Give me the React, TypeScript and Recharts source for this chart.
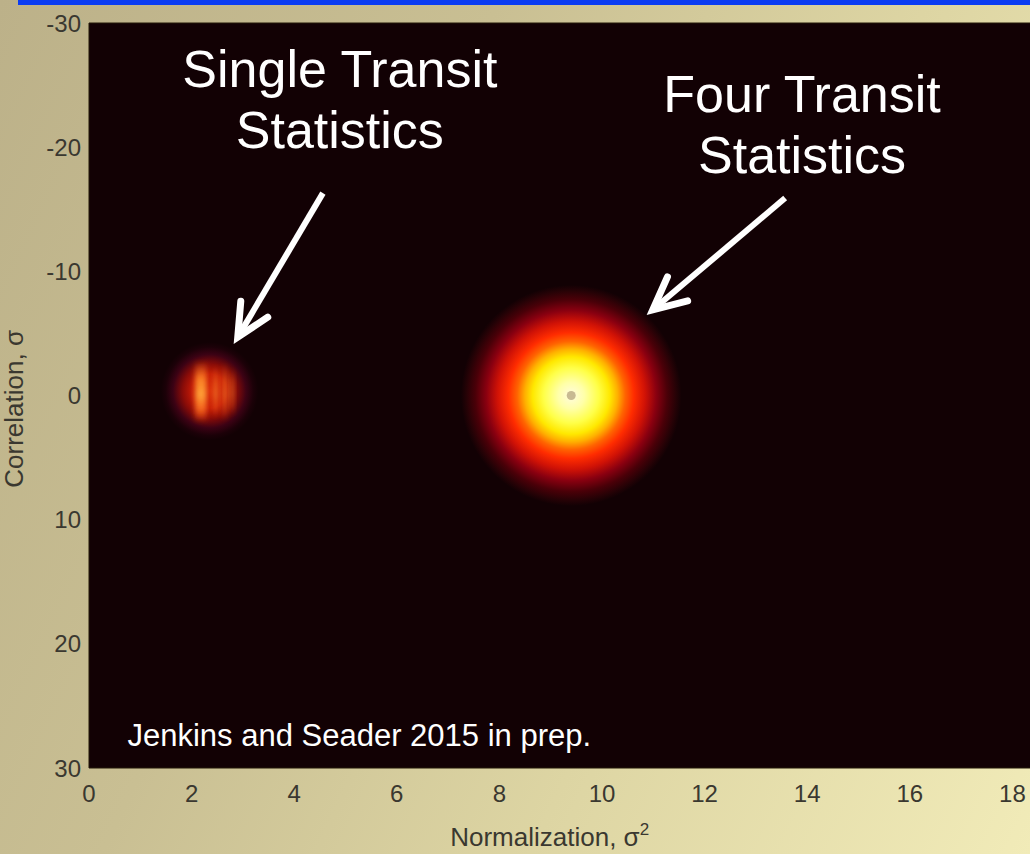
import React from "react";
import {
  ScatterChart,
  Scatter,
  XAxis,
  YAxis,
  ReferenceArea,
  ReferenceLine,
  ReferenceDot,
  Label,
} from "recharts";

// axes
const xTicks = [0, 2, 4, 6, 8, 10, 12, 14, 16, 18];
const yTicks = [-30, -20, -10, 0, 10, 20, 30];

// four-transit likelihood: one round peak
const fourPeak = [{ norm: 9.4, corr: 0 }];
const fourExtent = { norm1: 7.25, norm2: 11.55, corr1: -8.9, corr2: 8.9 };

// single-transit likelihood: a faint red patch with vertical streaks
const singleExtent = { norm1: 1.4, norm2: 3.3, corr1: -4.3, corr2: 3.6 };
const singleStreaks = [
  { norm1: 2.07, norm2: 2.29, corr1: -2.8, corr2: 2.2, level: 1 },
  { norm1: 2.42, norm2: 2.52, corr1: -2.4, corr2: 1.8, level: 0.55 },
  { norm1: 2.6, norm2: 2.7, corr1: -2.6, corr2: 2.0, level: 0.5 },
  { norm1: 2.75, norm2: 2.83, corr1: -2.2, corr2: 1.6, level: 0.45 },
];

// callouts
const arrows = [
  { from: { norm: 4.56, corr: -16.3 }, to: { norm: 2.9, corr: -4.7 } },
  { from: { norm: 13.57, corr: -15.9 }, to: { norm: 10.99, corr: -6.9 } },
];
const callouts = [
  { norm: 4.89, corr: -24.84, lines: ["Single Transit", "Statistics"] },
  { norm: 13.9, corr: -22.83, lines: ["Four Transit", "Statistics"] },
];
const credit = { norm: 0.75, corr: 28.2, text: "Jenkins and Seader 2015 in prep." };

const FONT = "'Liberation Sans', Arial, Helvetica, sans-serif";
const BG = "#120104";
const AXIS_TEXT = "#3a3830";

function ArrowShape(props: any) {
  const { x1, y1, x2, y2 } = props;
  const ang = Math.atan2(y2 - y1, x2 - x1);
  const len = 36;
  const spread = 0.45;
  const a1x = x2 - len * Math.cos(ang - spread);
  const a1y = y2 - len * Math.sin(ang - spread);
  const a2x = x2 - len * Math.cos(ang + spread);
  const a2y = y2 - len * Math.sin(ang + spread);
  return (
    <g>
      <line x1={x1} y1={y1} x2={x2} y2={y2} stroke="#fff" strokeWidth={6} />
      <polyline
        points={`${a1x},${a1y} ${x2},${y2} ${a2x},${a2y}`}
        fill="none"
        stroke="#fff"
        strokeWidth={7}
        strokeLinecap="round"
        strokeLinejoin="miter"
      />
    </g>
  );
}

export default function App() {
  return (
    <div
      style={{
        position: "absolute",
        left: 0,
        top: 0,
        width: 1030,
        height: 854,
        overflow: "hidden",
        background:
          "linear-gradient(115deg, #bcb189 0%, #c9bf93 35%, #ddd5a3 65%, #f1ebb8 100%)",
      }}
    >
      <div
        style={{
          position: "absolute",
          left: 18,
          right: 0,
          top: 0,
          height: 5,
          background: "#0b3cf2",
        }}
      />
      <ScatterChart
        width={1160}
        height={854}
        margin={{ top: 23, right: 45, bottom: 26, left: 29 }}
      >
        <defs>
          <radialGradient id="fourGlow" cx="50%" cy="50%" r="50%">
            <stop offset="0" stopColor="#fffbe0" />
            <stop offset="0.12" stopColor="#ffffa8" />
            <stop offset="0.25" stopColor="#ffff48" />
            <stop offset="0.35" stopColor="#ffe800" />
            <stop offset="0.42" stopColor="#ffb000" />
            <stop offset="0.49" stopColor="#ff6400" />
            <stop offset="0.57" stopColor="#ff2c00" />
            <stop offset="0.67" stopColor="#d01206" />
            <stop offset="0.77" stopColor="#8a0010" />
            <stop offset="0.87" stopColor="#4a0008" />
            <stop offset="0.95" stopColor="#260206" />
            <stop offset="1" stopColor={BG} />
          </radialGradient>
          <radialGradient id="singleGlow" cx="50%" cy="50%" r="50%">
            <stop offset="0" stopColor="#d82808" />
            <stop offset="0.35" stopColor="#c41a06" />
            <stop offset="0.55" stopColor="#8a0c08" />
            <stop offset="0.75" stopColor="#3c0214" />
            <stop offset="0.9" stopColor="#1c0108" />
            <stop offset="1" stopColor={BG} />
          </radialGradient>
          <linearGradient id="streak" x1="0" y1="0" x2="0" y2="1">
            <stop offset="0" stopColor="#ff7a20" stopOpacity={0} />
            <stop offset="0.3" stopColor="#ff8a28" stopOpacity={0.9} />
            <stop offset="0.55" stopColor="#ffa038" stopOpacity={1} />
            <stop offset="0.8" stopColor="#ff7020" stopOpacity={0.8} />
            <stop offset="1" stopColor="#ff5010" stopOpacity={0} />
          </linearGradient>
          <filter id="soft" x="-50%" y="-50%" width="200%" height="200%">
            <feGaussianBlur stdDeviation="2.5" />
          </filter>
        </defs>

        <XAxis
          type="number"
          dataKey="norm"
          domain={[0, 20]}
          ticks={xTicks}
          allowDataOverflow
          height={60}
          axisLine={false}
          tickLine={false}
          tickMargin={11}
          tick={{ fill: AXIS_TEXT, fontSize: 24, fontFamily: FONT }}
        >
          <Label
            content={({ viewBox }: any) => (
              <text
                x={viewBox.x + viewBox.width * 0.449}
                y={viewBox.y + viewBox.height + 18}
                textAnchor="middle"
                fill={AXIS_TEXT}
                fontSize={26}
                fontFamily={FONT}
              >
                <tspan>Normalization, σ</tspan>
                <tspan dy={-11} fontSize={17}>2</tspan>
              </text>
            )}
          />
        </XAxis>
        <YAxis
          type="number"
          dataKey="corr"
          domain={[-30, 30]}
          ticks={yTicks}
          reversed
          allowDataOverflow
          width={60}
          axisLine={false}
          tickLine={false}
          tick={{ fill: AXIS_TEXT, fontSize: 24, fontFamily: FONT }}
        >
          <Label
            content={({ viewBox }: any) => {
              const cx = viewBox.x - 6;
              const cy = viewBox.y + viewBox.height * 0.518;
              return (
                <text
                  x={cx}
                  y={cy}
                  transform={`rotate(-90, ${cx}, ${cy})`}
                  textAnchor="middle"
                  fill={AXIS_TEXT}
                  fontSize={26}
                  fontFamily={FONT}
                >
                  Correlation, σ
                </text>
              );
            }}
          />
        </YAxis>

        {/* image background */}
        <ReferenceArea
          x1={0}
          x2={20}
          y1={-30}
          y2={30}
          fill={BG}
          fillOpacity={1}
          stroke="#221808"
          strokeWidth={1}
          ifOverflow="visible"
        />

        {/* single-transit patch */}
        <ReferenceArea
          x1={singleExtent.norm1}
          x2={singleExtent.norm2}
          y1={singleExtent.corr1}
          y2={singleExtent.corr2}
          shape={(p: any) => (
            <rect x={p.x} y={p.y} width={p.width} height={p.height} fill="url(#singleGlow)" />
          )}
        />
        {singleStreaks.map((s, i) => (
          <ReferenceArea
            key={`streak-${i}`}
            x1={s.norm1}
            x2={s.norm2}
            y1={s.corr1}
            y2={s.corr2}
            shape={(p: any) => (
              <rect
                x={p.x}
                y={p.y}
                width={p.width}
                height={p.height}
                fill="url(#streak)"
                opacity={s.level}
                filter="url(#soft)"
              />
            )}
          />
        ))}

        {/* four-transit peak */}
        <ReferenceArea
          x1={fourExtent.norm1}
          x2={fourExtent.norm2}
          y1={fourExtent.corr1}
          y2={fourExtent.corr2}
          shape={(p: any) => (
            <rect x={p.x} y={p.y} width={p.width} height={p.height} fill="url(#fourGlow)" />
          )}
        />
        <Scatter
          data={fourPeak}
          fill="#c8ba92"
          isAnimationActive={false}
          shape={(p: any) => <circle cx={p.cx} cy={p.cy} r={4.5} fill="#c8ba92" />}
        />

        {arrows.map((a, i) => (
          <ReferenceLine
            key={`arrow-${i}`}
            segment={[
              { x: a.from.norm, y: a.from.corr },
              { x: a.to.norm, y: a.to.corr },
            ]}
            shape={ArrowShape}
          />
        ))}

        {callouts.map((c, i) => (
          <ReferenceDot
            key={`callout-${i}`}
            x={c.norm}
            y={c.corr}
            ifOverflow="visible"
            shape={(p: any) => (
              <text
                x={p.cx}
                y={p.cy}
                textAnchor="middle"
                fill="#ffffff"
                fontSize={52}
                fontFamily={FONT}
              >
                {c.lines.map((line, j) => (
                  <tspan key={j} x={p.cx} dy={j === 0 ? 0 : 61}>
                    {line}
                  </tspan>
                ))}
              </text>
            )}
          />
        ))}

        <ReferenceDot
          x={credit.norm}
          y={credit.corr}
          ifOverflow="visible"
          shape={(p: any) => (
            <text x={p.cx} y={p.cy} fill="#ffffff" fontSize={31} fontFamily={FONT}>
              {credit.text}
            </text>
          )}
        />
      </ScatterChart>
    </div>
  );
}
